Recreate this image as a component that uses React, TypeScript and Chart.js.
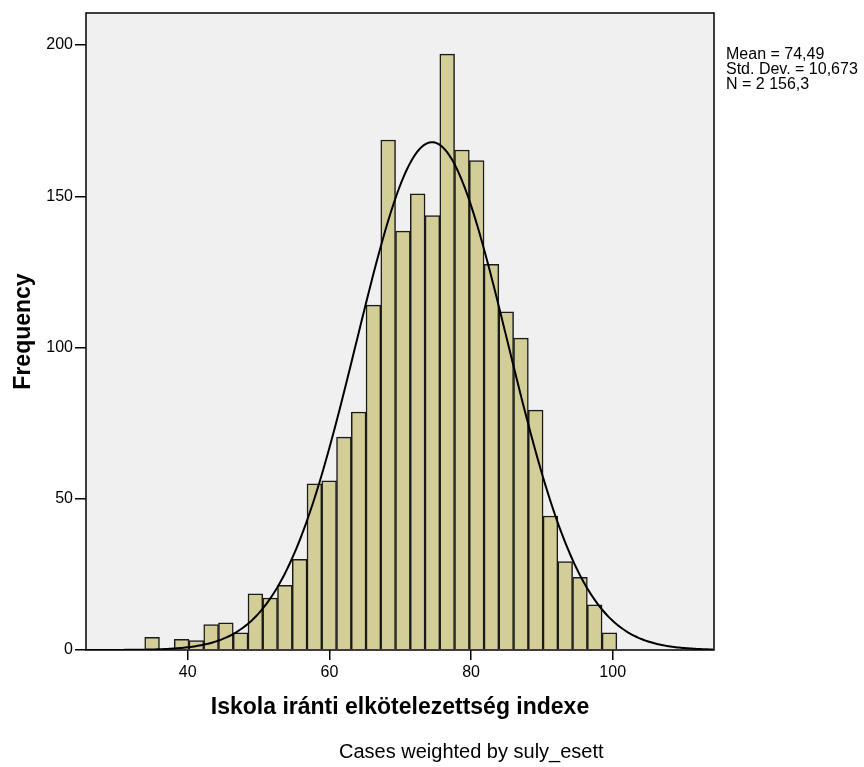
import React, { useEffect, useRef } from 'react';
import { Chart, registerables } from 'chart.js';

Chart.register(...registerables);

// ---- data ----
const binStart = 33.93;
const binWidth = 2.083;
const frequencies = [
  4.2, 0, 3.5, 3.1, 8.4, 9.0, 5.7, 18.6, 17.2, 21.4, 30.0, 54.9, 55.9, 70.4, 78.7, 114.0,
  168.6, 138.5, 150.8, 143.6, 197.0, 165.3, 161.8, 127.5, 111.8, 103.1, 79.3, 44.3, 29.2, 24.0, 14.9, 5.7,
];
const xTicks = [40, 60, 80, 100];
const yTicks = [0, 50, 100, 150, 200];
const xMin = 25.64;
const xMax = 114.3;
const yMax = 210.6;
const mean = 74.49;
const sd = 10.673;
const n = 2156.3;
const statLines = ['Mean = 74,49', 'Std. Dev. = 10,673', 'N = 2 156,3'];
const xTitle = 'Iskola iránti elkötelezettség indexe';
const yTitle = 'Frequency';
const caption = 'Cases weighted by suly_esett';

const FONT = '"Liberation Sans", Arial, sans-serif';

export default function App() {
  const canvasRef = useRef<HTMLCanvasElement | null>(null);

  useEffect(() => {
    document.body.style.margin = '0';
    const canvas = canvasRef.current;
    if (!canvas) return;

    const barData = frequencies.map((v, i) => ({ x: binStart + (i + 0.5) * binWidth, y: v }));
    const curveData: { x: number; y: number }[] = [];
    const scale = (n * binWidth) / (sd * Math.sqrt(2 * Math.PI));
    for (let x = xMin; x <= xMax + 1e-9; x += 0.25) {
      const z = (x - mean) / sd;
      curveData.push({ x, y: scale * Math.exp(-0.5 * z * z) });
    }

    const framePlugin = {
      id: 'spssFrame',
      beforeDraw(chart: any) {
        const { ctx, chartArea: a } = chart;
        ctx.save();
        ctx.fillStyle = '#ffffff';
        ctx.fillRect(0, 0, chart.width, chart.height);
        ctx.fillStyle = '#f0f0f0';
        ctx.fillRect(a.left, a.top, a.right - a.left, a.bottom - a.top);
        ctx.restore();
      },
      afterDraw(chart: any) {
        const { ctx, chartArea: a } = chart;
        ctx.save();
        ctx.strokeStyle = '#000';
        ctx.lineWidth = 1.5;
        ctx.strokeRect(a.left, a.top, a.right - a.left, a.bottom - a.top);
        ctx.fillStyle = '#000';
        ctx.textBaseline = 'alphabetic';
        ctx.textAlign = 'left';
        ctx.font = `16px ${FONT}`;
        statLines.forEach((t, i) => ctx.fillText(t, a.right + 12, 59 + i * 15));
        ctx.font = `20px ${FONT}`;
        ctx.fillText(caption, 339, 758);
        ctx.restore();
      },
    };

    const chart = new Chart(canvas, {
      type: 'bar',
      data: {
        datasets: [
          {
            type: 'line',
            data: curveData,
            borderColor: '#000',
            borderWidth: 2,
            pointRadius: 0,
            tension: 0,
            fill: false,
            order: 0,
          } as any,
          {
            type: 'bar',
            data: barData,
            backgroundColor: '#d3ce98',
            borderColor: '#1a1a1a',
            borderWidth: 1.5,
            barPercentage: 1,
            categoryPercentage: 1,
            grouped: false,
            order: 1,
          } as any,
        ],
      },
      options: {
        animation: false,
        responsive: false,
        maintainAspectRatio: false,
        layout: { padding: { top: 13, right: 150, bottom: 0, left: 0 } },
        plugins: { legend: { display: false }, tooltip: { enabled: false } },
        scales: {
          x: {
            type: 'linear',
            min: xMin,
            max: xMax,
            offset: false,
            afterBuildTicks: (axis: any) => {
              axis.ticks = xTicks.map((v) => ({ value: v }));
            },
            afterFit: (axis: any) => {
              axis.height = 117;
            },
            grid: { display: true, drawOnChartArea: false, drawTicks: true, tickLength: 10, color: '#000', lineWidth: 1.5, offset: false },
            border: { display: false },
            ticks: { color: '#000', font: { family: FONT, size: 16 }, padding: 3, maxRotation: 0, autoSkip: false },
            title: {
              display: true,
              text: xTitle,
              color: '#000',
              font: { family: FONT, size: 23, weight: 'bold', lineHeight: 1.2 },
              padding: { top: 0, bottom: 46 },
            },
          },
          y: {
            type: 'linear',
            min: 0,
            max: yMax,
            afterBuildTicks: (axis: any) => {
              axis.ticks = yTicks.map((v) => ({ value: v }));
            },
            afterFit: (axis: any) => {
              axis.width = 86;
            },
            grid: { display: true, drawOnChartArea: false, drawTicks: true, tickLength: 11, color: '#000', lineWidth: 1.5 },
            border: { display: false },
            ticks: { color: '#000', font: { family: FONT, size: 16 }, padding: 2, autoSkip: false },
            title: {
              display: true,
              text: yTitle,
              color: '#000',
              font: { family: FONT, size: 23, weight: 'bold', lineHeight: 1.2 },
              padding: { top: 10, bottom: 0 },
            },
          },
        },
      },
      plugins: [framePlugin],
    });

    return () => chart.destroy();
  }, []);

  return (
    <div style={{ width: 864, height: 767 }}>
      <canvas ref={canvasRef} width={864} height={767} style={{ display: 'block', width: 864, height: 767 }} />
    </div>
  );
}
